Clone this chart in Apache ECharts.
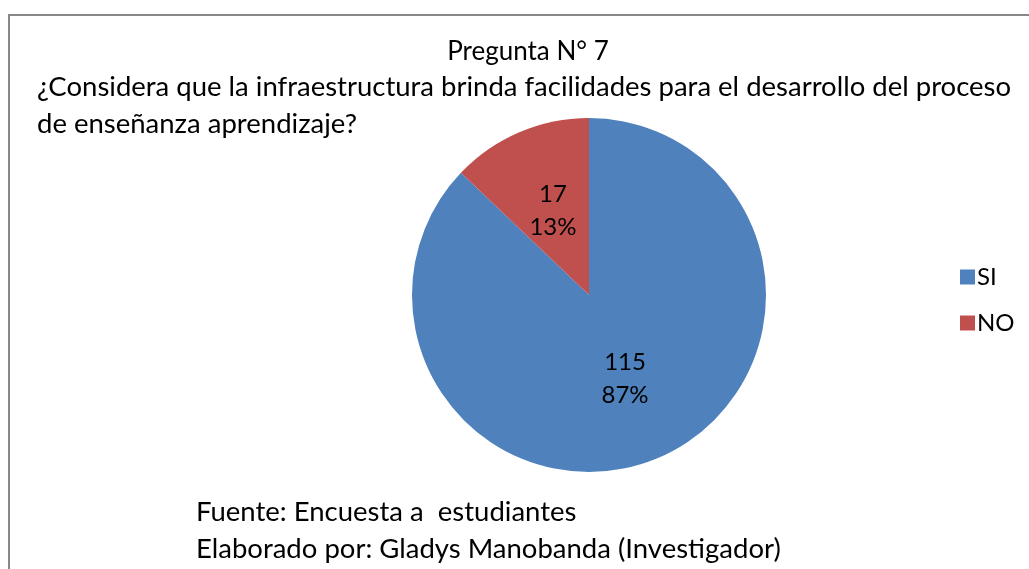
<!DOCTYPE html>
<html>
<head>
<meta charset="utf-8">
<script src="https://cdn.jsdelivr.net/npm/echarts@6/dist/echarts.min.js"></script>
<style>
  html, body { margin: 0; padding: 0; background: #fff; overflow: hidden; }
  #frame { position: absolute; left: 8px; top: 14px; width: 1100px; height: 700px; border: 2px solid #888; box-sizing: border-box; }
  #main { position: absolute; left: 0; top: 0; width: 1029px; height: 569px; }
</style>
</head>
<body>
<div id="frame"></div>
<div id="main"></div>
<script>
// datos de la pregunta 7
var categorias = ['SI', 'NO'];
var valores = [115, 17];
var colores = ['#4F81BD', '#C0504D'];

var fuente = "Lato, 'Open Sans', sans-serif";

var myChart = echarts.init(document.getElementById('main'));

var datos = [];
for (var i = 0; i < categorias.length; i++) {
    datos.push({ name: categorias[i], value: valores[i], itemStyle: { color: colores[i] } });
}

var option = {
    animation: false,
    textStyle: { fontFamily: fuente },
    title: [{
        text: 'Pregunta N° 7',
        left: 523,
        top: 34,
        textAlign: 'center',
        textStyle: { fontSize: 26, fontWeight: 'normal', color: '#000', fontFamily: fuente }
    }, {
        text: '¿Considera que la infraestructura brinda facilidades para el desarrollo del proceso\nde enseñanza aprendizaje?',
        left: 32,
        top: 64,
        textStyle: { fontSize: 27.5, fontWeight: 'normal', color: '#000', lineHeight: 37, fontFamily: fuente }
    }],
    legend: {
        orient: 'vertical',
        left: 955,
        top: 260,
        itemWidth: 15,
        itemHeight: 15,
        itemGap: 22,
        icon: 'rect',
        textStyle: { fontSize: 24, color: '#000', fontFamily: fuente, padding: [0, 0, 0, -3] },
        data: categorias
    },
    series: [{
        type: 'pie',
        center: [589, 295],
        radius: 177,
        startAngle: 90,
        clockwise: true,
        percentPrecision: 0,
        label: {
            show: true,
            position: 'inside',
            formatter: '{c}\n{d}%',
            fontSize: 24,
            lineHeight: 33,
            color: '#000',
            fontFamily: fuente
        },
        labelLine: { show: false },
        emphasis: { disabled: true },
        data: datos
    }],
    graphic: [{
        type: 'text',
        left: 196,
        top: 494,
        style: {
            text: 'Fuente: Encuesta a  estudiantes\nElaborado por: Gladys Manobanda (Investigador)',
            font: "27.5px Lato, 'Open Sans', sans-serif",
            lineHeight: 37,
            fill: '#000'
        }
    }]
};

myChart.setOption(option);
</script>
</body>
</html>
